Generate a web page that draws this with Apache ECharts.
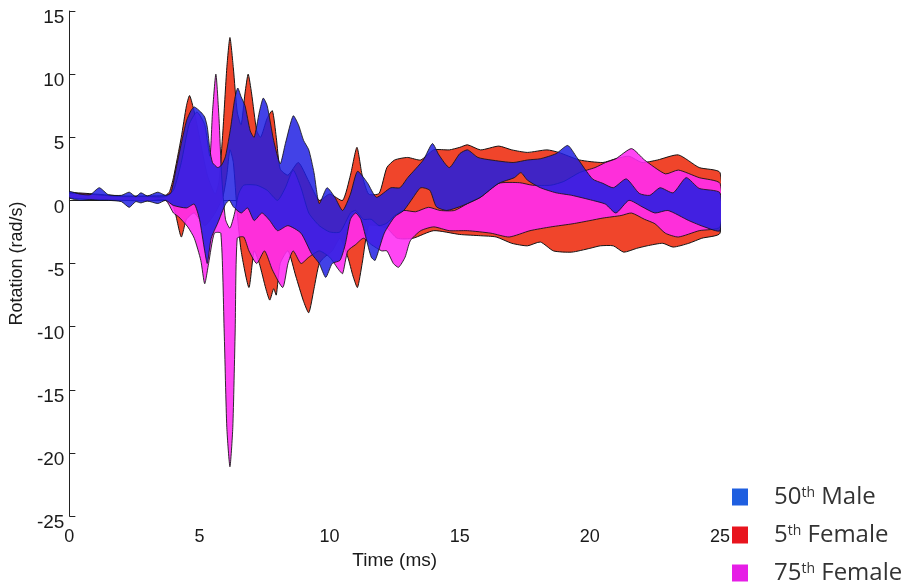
<!DOCTYPE html>
<html>
<head>
<meta charset="utf-8">
<title>Rotation corridors</title>
<script src="https://cdn.jsdelivr.net/npm/echarts@6/dist/echarts.min.js"></script>
<style>
  html, body { margin: 0; padding: 0; background: #ffffff; }
  #chart { width: 911px; height: 584px; }
</style>
</head>
<body>
<div id="chart"></div>
<script>
// Axis ticks
const timeTicks = [0, 5, 10, 15, 20, 25];
const rotationTicks = [-25, -20, -15, -10, -5, 0, 5, 10, 15];

// Series names, in legend order
const seriesNames = ['50th Male', '5th Female', '75th Female'];

// Corridor bounds as [time (ms), rotation (rad/s)]
const maleUpper = [
  [0, 0.7], [0.4, 0.5], [0.8, 0.45], [1.15, 1.0], [1.5, 0.45], [2.0, 0.4], [2.3, 0.65], [2.55, 0.3],
  [2.75, 0.6], [3.0, 0.35], [3.4, 0.65], [3.7, 0.4], [3.9, 0.6], [4.1, 2.5], [4.3, 4.5], [4.5, 6.3],
  [4.67, 7.1], [4.8, 7.4], [5.05, 7.0], [5.2, 6.6], [5.3, 5.8], [5.4, 4.0], [5.5, 3.0], [5.7, 2.6],
  [5.85, 2.8], [6.0, 3.5], [6.2, 5.8], [6.35, 8.0], [6.47, 8.9], [6.6, 8.2], [6.75, 7.5], [6.95, 5.5],
  [7.1, 5.0], [7.3, 7.0], [7.45, 8.1], [7.6, 7.5], [7.85, 4.75], [8.1, 2.9], [8.3, 4.5], [8.6, 6.7],
  [8.8, 6.0], [9.0, 4.75], [9.2, 4.0], [9.4, 2.2], [9.6, -0.25], [9.9, 1.0], [10.2, 0.25], [10.5, -0.8],
  [10.8, 0.5], [11.07, 2.3], [11.45, 1.4], [11.8, 0.25], [12.35, 1.0], [12.7, 1.0], [13.0, 1.8], [13.6, 3.2],
  [13.95, 4.5], [14.2, 3.6], [14.6, 2.6], [15.0, 3.7], [15.3, 4.0], [15.7, 3.4], [16.2, 3.2], [17.05, 3.0],
  [17.6, 3.2], [18.1, 3.3], [18.7, 3.7], [19.15, 4.35], [19.5, 3.4], [20.1, 1.7], [20.5, 1.35], [20.9, 1.0],
  [21.4, 1.7], [21.9, 0.55], [22.3, 0.4], [22.7, 1.0], [23.2, 0.6], [23.7, 1.8], [24.2, 0.95], [25, 0.6]
];
const maleLower = [
  [0, 0.2], [0.4, 0.0], [0.8, 0.05], [1.15, 0.0], [1.5, 0.0], [2.0, -0.1], [2.3, -0.55], [2.55, -0.1],
  [2.75, -0.2], [3.0, -0.05], [3.4, -0.25], [3.7, 0.0], [4.0, -0.4], [4.5, -0.6], [4.8, -0.3], [5.0, -1.5],
  [5.2, -4.0], [5.3, -5.0], [5.45, -3.0], [5.7, -1.8], [6.0, -0.3], [6.15, 0.0], [6.3, -0.5], [6.6, -1.0],
  [6.85, -0.6], [7.1, -1.6], [7.4, -1.0], [7.7, -1.6], [8.0, -2.4], [8.4, -2.0], [8.9, -2.6], [9.3, -4.2],
  [9.6, -5.0], [9.85, -6.1], [10.1, -5.0], [10.4, -4.75], [10.6, -3.5], [10.8, -1.5], [11.0, -1.0], [11.2, -1.5],
  [11.4, -3.0], [11.6, -4.5], [11.75, -4.75], [12.1, -2.6], [12.5, -1.3], [12.85, -0.8], [13.2, 0.2], [13.5, 1.0],
  [13.85, 0.8], [14.1, -0.5], [14.5, -0.8], [15.0, -0.5], [15.3, -0.25], [15.8, 0.25], [16.5, 1.35], [17.1, 1.8],
  [17.35, 2.2], [17.6, 1.6], [18.1, 1.0], [18.7, 0.6], [19.3, 0.4], [20.1, 0.0], [20.6, -0.3], [21.0, -1.0],
  [21.5, 0.0], [22.0, -0.5], [22.5, -1.0], [23.0, -0.8], [23.8, -1.6], [24.4, -2.1], [25, -2.4]
];

const female5Upper = [
  [0, 0.6], [1.0, 0.5], [2.0, 0.35], [3.0, 0.35], [3.7, 0.4], [3.85, 0.7], [4.0, 1.8], [4.3, 5.0],
  [4.5, 7.5], [4.62, 8.3], [4.8, 7.0], [5.0, 5.0], [5.3, 2.0], [5.6, 0.5], [5.75, 1.5], [5.9, 5.5],
  [6.05, 10.5], [6.17, 12.9], [6.3, 10.5], [6.45, 7.0], [6.6, 6.0], [6.75, 8.5], [6.87, 10.0], [7.0, 8.5],
  [7.2, 5.5], [7.35, 5.0], [7.6, 6.5], [7.8, 7.1], [7.95, 5.0], [8.1, 2.5], [8.4, 2.0], [8.8, 3.0],
  [9.2, 1.5], [9.6, 0.0], [10.0, 0.5], [10.5, 0.0], [10.8, 2.0], [11.05, 4.2], [11.25, 2.0], [11.5, 0.5],
  [11.9, 0.55], [12.2, 2.6], [12.5, 3.2], [13.0, 3.4], [13.5, 3.2], [14.0, 4.0], [14.6, 4.0], [15.0, 4.2],
  [15.3, 4.4], [15.8, 4.0], [16.5, 4.3], [17.0, 4.0], [17.6, 3.8], [18.35, 4.0], [18.8, 3.8], [19.6, 3.2],
  [20.5, 3.0], [21.0, 3.3], [21.5, 3.5], [22.0, 3.0], [22.6, 3.2], [23.4, 3.6], [24.2, 2.6], [25, 2.2]
];
const female5Lower = [
  [0, 0.25], [1.0, 0.1], [2.0, 0.05], [3.0, 0.0], [3.7, 0.05], [4.0, -0.5], [4.3, -2.9], [4.5, -1.5],
  [4.8, -1.0], [5.2, -2.0], [5.6, -1.0], [5.9, 0.3], [6.05, 2.0], [6.17, 4.0], [6.3, 3.0], [6.45, -1.0],
  [6.6, -4.0], [6.9, -6.9],
  [7.1, -4.0], [7.3, -5.0], [7.55, -7.0], [7.7, -7.9], [7.85, -7.0], [7.95, -7.5], [8.1, -5.0], [8.4, -4.0],
  [8.7, -6.0], [9.0, -8.0], [9.2, -8.9], [9.4, -7.0], [9.6, -5.0], [9.8, -4.5], [10.1, -4.0], [10.4, -3.0],
  [10.7, -4.5], [10.9, -6.0], [11.07, -6.9], [11.25, -5.0], [11.5, -2.0], [11.8, -2.0], [12.2, -2.2], [12.6, -3.0],
  [13.2, -3.0], [14.0, -2.4], [15.0, -2.7], [15.8, -2.8], [16.4, -2.9], [17.0, -3.4], [17.6, -3.6], [18.1, -3.3],
  [18.6, -4.0], [19.3, -4.1], [20.0, -3.8], [20.4, -3.6], [20.9, -3.6], [21.3, -4.1], [21.8, -3.8], [22.2, -3.6],
  [22.8, -3.4], [23.2, -3.7], [23.8, -3.4], [24.3, -3.0], [25, -2.6]
];

const female75Upper = [
  [0, 0.55], [1.0, 0.45], [2.0, 0.3], [3.0, 0.3], [3.7, 0.3], [4.0, 0.8], [4.3, 3.0], [4.6, 6.0],
  [4.9, 7.0], [5.2, 6.0], [5.4, 3.5], [5.5, 7.0], [5.63, 10.0], [5.75, 6.5], [5.85, 2.0], [6.0, -1.5],
  [6.17, -2.2], [6.35, -1.0], [6.5, 0.5], [6.7, 1.2], [7.2, 1.2], [7.6, 0.8], [8.0, 0.0], [8.3, 1.0],
  [8.6, 2.4], [8.9, 1.0], [9.2, -1.0], [9.6, -2.0], [10.0, -2.5], [10.4, -2.5], [10.8, -1.0], [11.0, -0.8],
  [11.3, -1.5], [11.6, -1.5], [11.9, -2.0], [12.2, -1.8], [12.5, -1.2], [12.85, -0.8], [13.3, -0.9], [13.8, -0.55],
  [14.25, -0.8], [14.8, -0.8], [15.3, -0.25], [15.8, 0.25], [16.5, 1.35], [17.3, 1.4], [17.8, 1.2], [18.5, 1.2],
  [19.0, 1.5], [19.6, 2.2], [20.2, 2.6], [20.6, 3.0], [21.0, 3.3], [21.6, 4.1], [22.1, 3.2], [22.9, 2.1],
  [23.4, 2.4], [24.2, 1.8], [25, 1.35]
];
const female75Lower = [
  [0, 0.2], [1.0, 0.05], [2.0, 0.0], [3.0, -0.05], [3.7, 0.0], [4.0, -1.0], [4.2, -1.3], [4.55, -2.1],
  [4.8, -3.0], [5.05, -4.75], [5.2, -6.6], [5.35, -5.0], [5.57, -2.6], [5.82, -2.6], [5.95, -10.5], [6.05, -18.0],
  [6.17, -21.1], [6.28, -18.0], [6.37, -10.5], [6.45, -3.0], [6.7, -2.9], [6.9, -4.0], [7.2, -5.0], [7.5, -4.0],
  [7.8, -5.5], [8.2, -6.9], [8.4, -5.0], [8.6, -4.0], [8.9, -5.0], [9.2, -4.5], [9.6, -4.0], [10.0, -4.5],
  [10.35, -5.5], [10.5, -5.8], [10.7, -4.0], [11.0, -3.5], [11.3, -3.0], [11.6, -3.5], [12.0, -4.0], [12.2, -4.0],
  [12.45, -5.0], [12.65, -5.3], [12.9, -4.5], [13.1, -3.2], [13.5, -2.4], [14.0, -2.1], [14.6, -2.4], [15.3, -2.4],
  [16.2, -2.6], [16.9, -2.9], [17.7, -2.4], [18.5, -2.1], [19.35, -1.85], [20.0, -1.6], [20.5, -1.4], [21.2, -1.2],
  [21.6, -1.0], [22.1, -1.5], [22.5, -1.85], [22.9, -2.6], [23.4, -2.9], [24.2, -2.4], [25, -2.1]
];

// Draw one corridor as a closed outline: upper edge left to right, lower edge back
function corridor(upper, lower, fill, opacity) {
  return function (params, api) {
    if (params.dataIndex !== 0) return null;
    const pts = upper.map(function (p) { return api.coord(p); })
      .concat(lower.slice().reverse().map(function (p) { return api.coord(p); }));
    return {
      type: 'polygon',
      shape: { points: pts, smooth: 0.2 },
      style: { fill: fill, opacity: opacity, stroke: '#141414', lineWidth: 1 }
    };
  };
}

const fills = {
  '5th Female': '#f0452b',
  '75th Female': '#ff2cf2',
  '50th Male': '#1e1ee2'
};
const legendSwatch = {
  '50th Male': '#1f5fe0',
  '5th Female': '#e8141e',
  '75th Female': '#e61ee6'
};

const chart = echarts.init(document.getElementById('chart'), null, { renderer: 'canvas' });

const axisFont = { fontFamily: 'Liberation Sans', fontSize: 18, color: '#1a1a1a' };

chart.setOption({
  backgroundColor: '#ffffff',
  animation: false,
  grid: { left: 68, top: 11, width: 652, height: 505, containLabel: false },
  xAxis: {
    type: 'value', min: timeTicks[0], max: timeTicks[timeTicks.length - 1], interval: 5,
    name: 'Time (ms)', nameLocation: 'middle', nameGap: 30,
    nameTextStyle: { fontFamily: 'Liberation Sans', fontSize: 19, color: '#1a1a1a' },
    axisLine: { lineStyle: { color: '#222', width: 1 } },
    axisTick: { inside: true, length: 6, lineStyle: { color: '#222' } },
    axisLabel: Object.assign({ margin: 12 }, axisFont),
    splitLine: { show: false }
  },
  yAxis: {
    type: 'value', min: rotationTicks[0], max: rotationTicks[rotationTicks.length - 1], interval: 5,
    name: 'Rotation (rad/s)', nameLocation: 'middle', nameGap: 39, nameRotate: 90,
    nameTextStyle: { fontFamily: 'Liberation Sans', fontSize: 18, color: '#1a1a1a' },
    axisLine: { show: true, lineStyle: { color: '#222', width: 1 } },
    axisTick: { show: true, inside: true, length: 6, lineStyle: { color: '#222' } },
    axisLabel: Object.assign({ margin: 5 }, axisFont, { fontSize: 19, verticalAlign: 'top', lineHeight: 14 }),
    splitLine: { show: false }
  },
  legend: {
    orient: 'vertical', left: 732, top: 485, height: 130, padding: 0,
    itemWidth: 16, itemHeight: 17, itemGap: 14, icon: 'rect',
    data: seriesNames.map(function (n) { return { name: n, itemStyle: { color: legendSwatch[n] } }; }),
    formatter: function (name) {
      const m = name.match(/^(\d+)th (.*)$/);
      return '{n|' + m[1] + '}{s|th}{n| ' + m[2] + '}';
    },
    textStyle: {
      padding: [0, 0, 0, 21],
      rich: {
        n: { fontFamily: 'Open Sans', fontSize: 24, color: '#333333', lineHeight: 22 },
        s: { fontFamily: 'Open Sans', fontSize: 14, color: '#333333', verticalAlign: 'top', lineHeight: 14 }
      }
    }
  },
  series: [
    { name: '5th Female', type: 'custom', data: [[0, 0]], clip: true,
      itemStyle: { color: fills['5th Female'] },
      renderItem: corridor(female5Upper, female5Lower, fills['5th Female'], 1) },
    { name: '75th Female', type: 'custom', data: [[0, 0]], clip: true,
      itemStyle: { color: fills['75th Female'] },
      renderItem: corridor(female75Upper, female75Lower, fills['75th Female'], 0.88) },
    { name: '50th Male', type: 'custom', data: [[0, 0]], clip: true,
      itemStyle: { color: fills['50th Male'] },
      renderItem: corridor(maleUpper, maleLower, fills['50th Male'], 0.84) }
  ]
});
</script>
</body>
</html>
